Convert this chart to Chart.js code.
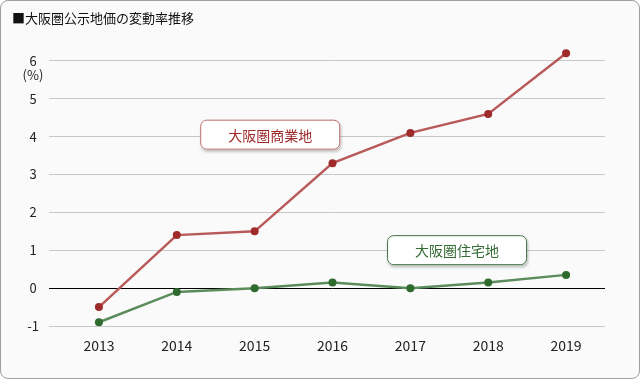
<!DOCTYPE html>
<html>
<head>
<meta charset="utf-8">
<script src="https://cdn.jsdelivr.net/npm/chart.js@4/dist/chart.umd.min.js"></script>
<style>
  html, body { margin: 0; padding: 0; background: #fff; }
  #wrap {
    position: relative; width: 638px; height: 377px;
    border: 1px solid #a0a0a0; border-radius: 8px; background: #fafafa;
  }
  canvas { position: absolute; left: -1px; top: -1px; }
</style>
</head>
<body>
<div id="wrap"><canvas id="landChart" width="640" height="379"></canvas></div>
<script>
// 大阪圏公示地価の変動率推移 (%)
var years       = ['2013', '2014', '2015', '2016', '2017', '2018', '2019'];
var commercial  = [-0.5, 1.4, 1.5, 3.3, 4.1, 4.6, 6.2];
var residential = [-0.9, -0.1, 0.0, 0.15, 0.0, 0.15, 0.35];
var yTicks      = [-1, 0, 1, 2, 3, 4, 5, 6];

var FONT = '"Noto Sans CJK JP", "Noto Sans", sans-serif';

function roundRect(ctx, x, y, w, h, r) {
  ctx.beginPath();
  ctx.moveTo(x + r, y);
  ctx.lineTo(x + w - r, y);
  ctx.arcTo(x + w, y, x + w, y + r, r);
  ctx.lineTo(x + w, y + h - r);
  ctx.arcTo(x + w, y + h, x + w - r, y + h, r);
  ctx.lineTo(x + r, y + h);
  ctx.arcTo(x, y + h, x, y + h - r, r);
  ctx.lineTo(x, y + r);
  ctx.arcTo(x, y, x + r, y, r);
  ctx.closePath();
}

// title, unit label and the two series name boxes
var overlay = {
  id: 'overlay',
  afterDraw: function(chart) {
    var ctx = chart.ctx;
    var xs = chart.scales.x, ys = chart.scales.y;
    ctx.save();
    ctx.fillStyle = '#111';
    ctx.font = '13px ' + FONT;
    ctx.textBaseline = 'middle';
    ctx.textAlign = 'left';
    ctx.fillText('■大阪圏公示地価の変動率推移', 12, 18);

    ctx.textAlign = 'center';
    ctx.fillStyle = '#222';
    ctx.fillText('(%)', 33, ys.getPixelForValue(6) + 14);

    var boxes = [
      { text: '大阪圏商業地', at: 2.2, val: 4.0, border: '#b86b6b', color: '#9e2a2a' },
      { text: '大阪圏住宅地', at: 4.6, val: 0.95, border: '#3f6f3f', color: '#356b35' }
    ];
    boxes.forEach(function(b) {
      var cx = xs.getPixelForValue(b.at), cy = ys.getPixelForValue(b.val) - 2;
      var w = 140, h = 30;
      ctx.save();
      ctx.shadowColor = 'rgba(0,0,0,0.25)';
      ctx.shadowBlur = 3;
      ctx.shadowOffsetX = 1;
      ctx.shadowOffsetY = 2;
      roundRect(ctx, cx - w / 2, cy - h / 2, w, h, 6);
      ctx.fillStyle = '#fff';
      ctx.fill();
      ctx.restore();
      roundRect(ctx, cx - w / 2 + 0.5, cy - h / 2 + 0.5, w - 1, h - 1, 6);
      ctx.strokeStyle = b.border;
      ctx.lineWidth = 1;
      ctx.stroke();
      ctx.fillStyle = b.color;
      ctx.font = '14px ' + FONT;
      ctx.textAlign = 'center';
      ctx.fillText(b.text, cx, cy + 1);
    });
    ctx.restore();
  }
};

new Chart(document.getElementById('landChart'), {
  type: 'line',
  data: {
    labels: years,
    datasets: [{
      label: '大阪圏商業地',
      data: commercial,
      borderColor: '#b85a5a',
      borderWidth: 2.5,
      pointRadius: 4,
      pointBackgroundColor: '#9e2a2a',
      pointBorderWidth: 0,
      tension: 0,
      clip: false
    }, {
      label: '大阪圏住宅地',
      data: residential,
      borderColor: '#5b8c5b',
      borderWidth: 2.5,
      pointRadius: 4,
      pointBackgroundColor: '#2f6a2f',
      pointBorderWidth: 0,
      tension: 0,
      clip: false
    }]
  },
  options: {
    responsive: false,
    animation: false,
    layout: { padding: { top: 42, right: 35, bottom: 26, left: 0 } },
    plugins: { legend: { display: false }, tooltip: { enabled: false } },
    scales: {
      x: {
        offset: true,
        afterFit: function(s) { s.height = 27; },
        grid: { display: false, drawTicks: false },
        border: { display: false },
        ticks: { color: '#222', padding: 11, font: { size: 14, family: FONT } }
      },
      y: {
        min: -1,
        max: 6.5,
        afterFit: function(s) { s.width = 60; },
        afterBuildTicks: function(s) { s.ticks = yTicks.map(function(v) { return { value: v }; }); },
        border: { display: false },
        grid: {
          color: function(c) { return c.tick && c.tick.value === 0 ? '#000' : '#c8c8c8'; },
          lineWidth: 1,
          drawTicks: true,
          tickLength: 11
        },
        ticks: {
          color: '#222',
          padding: 10,
          crossAlign: 'center',
          font: { size: 13, family: FONT }
        }
      }
    }
  },
  plugins: [overlay]
});
</script>
</body>
</html>
